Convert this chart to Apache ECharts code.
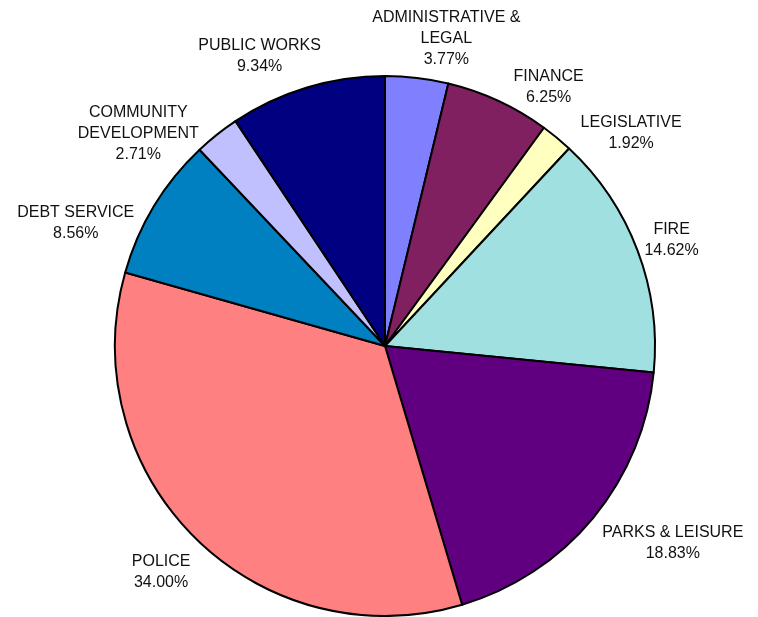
<!DOCTYPE html>
<html>
<head>
<meta charset="utf-8">
<script src="https://cdn.jsdelivr.net/npm/echarts@6/dist/echarts.min.js"></script>
<style>html,body{margin:0;padding:0;background:#fff}#c{width:758px;height:617px}</style>
</head>
<body>
<div id="c"></div>
<script>
const categories = ['ADMINISTRATIVE &\nLEGAL', 'FINANCE', 'LEGISLATIVE', 'FIRE', 'PARKS & LEISURE', 'POLICE', 'DEBT SERVICE', 'COMMUNITY\nDEVELOPMENT', 'PUBLIC WORKS'];
const shares = [3.77, 6.25, 1.92, 14.62, 18.83, 34.00, 8.56, 2.71, 9.34];
const colors = ['#8080FF', '#802060', '#FFFFC0', '#A0E0E0', '#600080', '#FF8080', '#0080C0', '#C0C0FF', '#000080'];
// label layout nudges (px) applied after placing each label along its slice's mid-angle
const labelNudge = [[24, 6], [31, 28], [45, 31], [-9, 6], [44, -4], [-2, 1], [-39, 41], [-50, 35], [-34, 13]];

const CX = 385, CY = 346, R = 270, LABEL_DIST = 316;
const total = shares.reduce((a, b) => a + b, 0);
const cum = [];
shares.reduce((acc, v, i) => { cum[i] = acc; return acc + v; }, 0);

const chart = echarts.init(document.getElementById('c'));
chart.setOption({
  backgroundColor: '#fff',
  animation: false,
  series: [{
    type: 'pie',
    center: [CX, CY],
    radius: R,
    startAngle: 90,
    clockwise: true,
    avoidLabelOverlap: false,
    data: categories.map((n, i) => ({ name: n, value: shares[i], itemStyle: { color: colors[i] } })),
    itemStyle: { borderColor: '#000', borderWidth: 2 },
    label: {
      show: true,
      position: 'outside',
      formatter: p => p.name + '\n' + p.value.toFixed(2) + '%',
      fontFamily: 'Liberation Sans, Arial, sans-serif',
      fontSize: 16,
      lineHeight: 21,
      color: '#111',
      align: 'center'
    },
    labelLine: { show: false },
    emphasis: { disabled: true },
    labelLayout: function (params) {
      const i = params.dataIndex;
      const mid = (90 - (cum[i] + shares[i] / 2) / total * 360) * Math.PI / 180;
      const x = CX + LABEL_DIST * Math.cos(mid) + labelNudge[i][0];
      const y = CY - LABEL_DIST * Math.sin(mid) + labelNudge[i][1];
      return { x: x, y: y, align: 'center', verticalAlign: 'middle' };
    }
  }]
});
</script>
</body>
</html>
